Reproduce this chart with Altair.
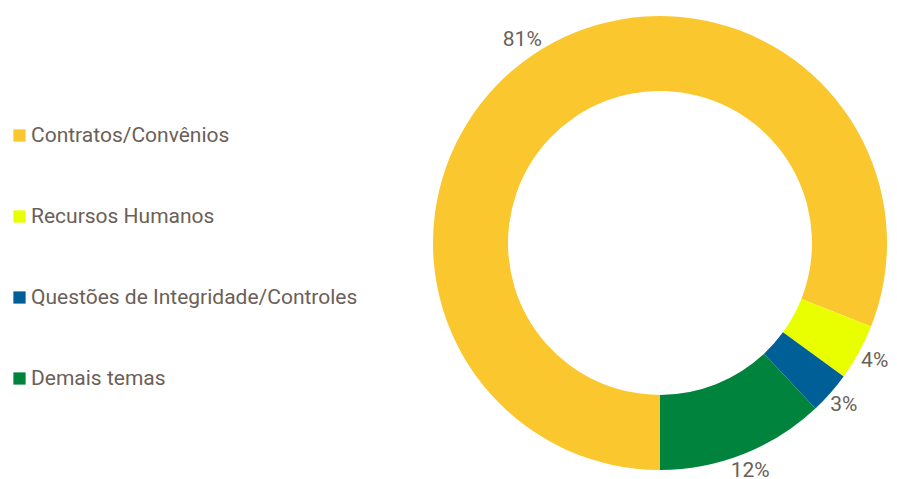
import math
import altair as alt
import pandas as pd

categories = ["Contratos/Convênios", "Recursos Humanos", "Questões de Integridade/Controles", "Demais temas"]
values = [81, 4, 3, 12]
labels = ["81%", "4%", "3%", "12%"]
colors = ["#FBC72E", "#E9FF00", "#005F96", "#00843D"]

df = pd.DataFrame({"cat": categories, "value": values, "label": labels, "ord": list(range(len(categories)))})

theta = alt.Theta("value:Q", stack=True, scale=alt.Scale(range=[math.pi, 3 * math.pi]))
color = alt.Color(
    "cat:N",
    scale=alt.Scale(domain=categories, range=colors),
    sort=categories,
    legend=alt.Legend(
        title=None,
        orient="none",
        legendX=9,
        legendY=125,
        symbolType="square",
        symbolSize=150,
        symbolStrokeWidth=0,
        symbolOpacity=1,
        labelFont="Roboto",
        labelFontSize=21,
        labelColor="#6B6058",
        labelLimit=500,
        rowPadding=59,
        labelOffset=1,
    ),
)

base = alt.Chart(df).encode(
    theta=theta,
    order=alt.Order("ord:Q"),
    x=alt.value(660),
    y=alt.value(243),
)

arcs = base.mark_arc(innerRadius=152, outerRadius=227, stroke=None).encode(color=color)
text = base.mark_text(radius=245, font="Roboto", fontSize=21, color="#6B6058", baseline="middle").encode(text="label:N")

chart = (
    alt.layer(arcs, text)
    .properties(width=897, height=479, autosize=alt.AutoSizeParams(type="none"), padding=0)
    .configure_view(stroke=None)
)

chart.save("out.html", embed_options={"renderer": "svg", "actions": False})
